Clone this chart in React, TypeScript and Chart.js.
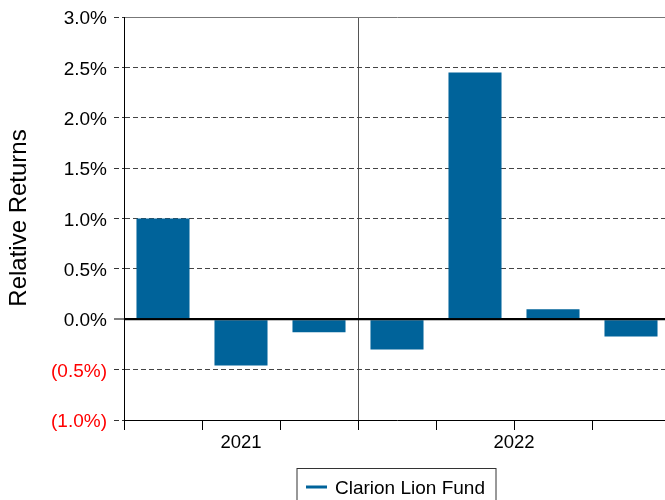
import React, { useEffect, useRef } from "react";
import { Chart, registerables } from "chart.js";

Chart.register(...registerables);

const periods = ["2021 P1", "2021 P2", "2021 P3", "2022 P1", "2022 P2", "2022 P3", "2022 P4"];
const relativeReturns = [1.0, -0.46, -0.13, -0.3, 2.45, 0.1, -0.17];
const yearLabels = ["2021", "2022"];
const yearGroupSizes = [3, 4];
const seriesName = "Clarion Lion Fund";
const yTitle = "Relative Returns";

const BAR_COLOR = "#00639a";
const FONT = "'Liberation Sans', Arial, Helvetica, sans-serif";

export default function App() {
  const ref = useRef<HTMLCanvasElement | null>(null);

  useEffect(() => {
    const canvas = ref.current;
    if (!canvas) return;

    const overlay = {
      id: "overlay",
      afterDatasetsDraw(chart: any) {
        const { ctx, chartArea, scales } = chart;
        const y = scales.y;
        const y0 = y.getPixelForValue(0);
        ctx.save();
        ctx.strokeStyle = "#000";
        ctx.lineWidth = 2;
        ctx.beginPath();
        ctx.moveTo(chartArea.left, y0);
        ctx.lineTo(chartArea.right, y0);
        ctx.stroke();
        ctx.restore();
      },
      afterDraw(chart: any) {
        const { ctx, chartArea, scales } = chart;
        const x = scales.x;
        ctx.save();
        // year group labels
        ctx.fillStyle = "#000";
        ctx.font = `18.5px ${FONT}`;
        ctx.textAlign = "center";
        ctx.textBaseline = "middle";
        let start = 0;
        yearLabels.forEach((lab, i) => {
          const end = start + yearGroupSizes[i] - 1;
          const cx = (x.getPixelForValue(start) + x.getPixelForValue(end)) / 2;
          ctx.fillText(lab, cx, chartArea.bottom + 23);
          start = end + 1;
        });
        // y title
        ctx.save();
        ctx.translate(11, 210);
        ctx.rotate(-Math.PI / 2);
        ctx.font = `24px ${FONT}`;
        ctx.fillText(yTitle, 0, 0);
        ctx.restore();
        // legend
        const lx = 289, ly = 460.5, lw = 199, lh = 40;
        ctx.strokeStyle = "#333";
        ctx.lineWidth = 1;
        ctx.strokeRect(lx, ly, lw, lh);
        ctx.strokeStyle = BAR_COLOR;
        ctx.lineWidth = 3;
        ctx.beginPath();
        ctx.moveTo(298, 479);
        ctx.lineTo(319, 479);
        ctx.stroke();
        ctx.fillStyle = "#000";
        ctx.font = `19px ${FONT}`;
        ctx.textAlign = "left";
        ctx.fillText(seriesName, 327, 481);
        ctx.restore();
      },
    };

    const chart = new Chart(canvas, {
      type: "bar",
      data: {
        labels: periods,
        datasets: [
          {
            label: seriesName,
            data: relativeReturns,
            backgroundColor: BAR_COLOR,
            borderWidth: 0,
            barPercentage: 0.68,
            categoryPercentage: 1.0,
          },
        ],
      },
      options: {
        responsive: false,
        animation: false,
        layout: { padding: { left: 0, top: 9, right: 18, bottom: 0 } },
        plugins: { legend: { display: false }, tooltip: { enabled: false } },
        scales: {
          x: {
            offset: true,
            afterFit(scale: any) {
              scale.height = 98;
              scale.paddingLeft = 0;
              scale.paddingRight = 0;
            },
            ticks: { display: false },
            border: { display: true, color: "#000", width: 1 },
            grid: {
              offset: true,
              drawOnChartArea: true,
              drawTicks: true,
              tickLength: 10,
              tickWidth: 1,
              tickColor: "#000",
              lineWidth: 1,
              color: (ctx: any) => (ctx.index === 3 ? "#555" : "rgba(0,0,0,0)"),
            },
          },
          y: {
            min: -1,
            max: 3,
            afterFit(scale: any) {
              scale.width = 116;
              scale.paddingTop = 0;
              scale.paddingBottom = 0;
            },
            ticks: {
              stepSize: 0.5,
              padding: 7,
              labelOffset: 2,
              font: { size: 19, family: FONT },
              color: (ctx: any) => (ctx.tick && ctx.tick.value < 0 ? "#ff0000" : "#000"),
              callback: (v: any) => {
                const n = Number(v);
                return n < 0 ? `(${Math.abs(n).toFixed(1)}%)` : `${n.toFixed(1)}%`;
              },
            },
            border: {
              display: true,
              color: "#000",
              width: 1,
              dash: (ctx: any) => {
                if (!ctx.tick) return [];
                const v = ctx.tick.value;
                return v === 0 || v === 3 || v === -1 ? [] : [5, 3];
              },
            },
            grid: {
              drawTicks: true,
              tickLength: 10,
              tickWidth: 1,
              tickColor: (ctx: any) => (ctx.tick && ctx.tick.value === 0 ? "#000" : "#333"),
              tickBorderDash: (ctx: any) => (ctx.tick && ctx.tick.value === 0 ? [] : [5, 3]),
              lineWidth: (ctx: any) => (ctx.tick && ctx.tick.value === 0 ? 2 : 1),
              color: (ctx: any) => {
                const v = ctx.tick ? ctx.tick.value : null;
                if (v === 0) return "#000";
                if (v === 3) return "#777";
                if (v === -1) return "#ccc";
                return "#444";
              },
            },
          },
        },
      },
      plugins: [overlay],
    });

    return () => chart.destroy();
  }, []);

  return (
    <div
      style={{
        position: "fixed",
        left: 8,
        top: 8,
        width: 657,
        height: 492,
        overflow: "hidden",
      }}
    >
      <canvas ref={ref} width={680} height={510} style={{ width: 680, height: 510, display: "block" }} />
    </div>
  );
}
